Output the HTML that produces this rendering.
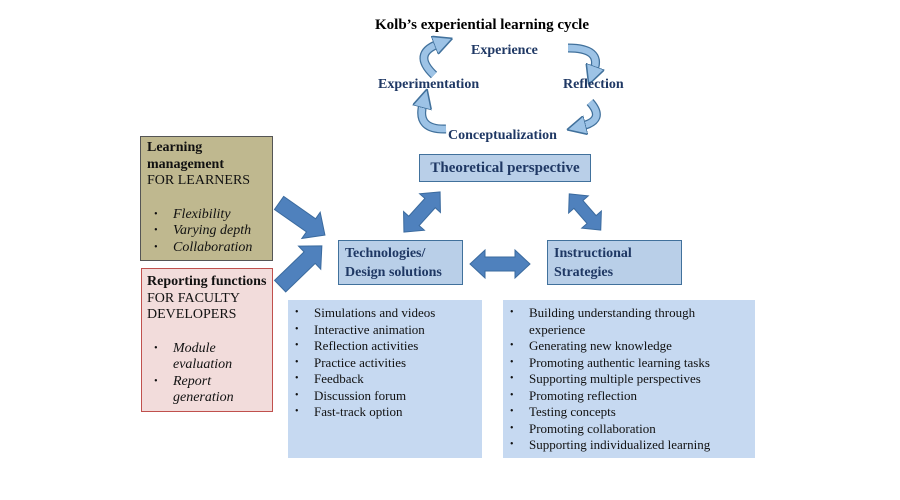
<!DOCTYPE html>
<html><head><meta charset="utf-8"><style>
body{margin:0;width:900px;height:500px;background:#fff;position:relative;overflow:hidden;font-family:"Liberation Serif",serif;}
.a{position:absolute;}
.b{font-weight:bold;color:#1f3864;}
ul{margin:0;padding:0;list-style:none;}
li{position:relative;padding-left:26px;font-size:13px;line-height:16.5px;color:#111;}
li:before{content:"•";position:absolute;left:7px;font-size:10px;}
</style></head><body>
<svg class="a" style="left:0;top:0" width="900" height="500">
<defs>
<marker id="h" viewBox="0 0 10 10" refX="2" refY="5" markerWidth="3" markerHeight="3" orient="auto" markerUnits="strokeWidth">
<path d="M0,0 L10,5 L0,10 Z" fill="#9dc3e6" stroke="#41719c" stroke-width="0.8"/>
</marker>
</defs>
<g fill="none" stroke-linecap="butt">
<g stroke="#41719c" stroke-width="9">
<path d="M434,75 Q412,54 438,44"/>
<path d="M568,48 Q602,48 594,70"/>
<path d="M590,102 Q606,120 582,126"/>
<path d="M446,129 Q416,130 423,104"/>
</g>
<g stroke="#9dc3e6" stroke-width="6.5" marker-end="url(#h)">
<path d="M434,75 Q412,54 438,44"/>
<path d="M568,48 Q602,48 594,70"/>
<path d="M590,102 Q606,120 582,126"/>
<path d="M446,129 Q416,130 423,104"/>
</g>
</g>
<g fill="#4f81bd" stroke="#3a6a9e" stroke-width="1">
<path transform="translate(302,219) rotate(35)" d="M-28,-8 L11,-8 L11,-16 L28,0 L11,16 L11,8 L-28,8 Z"/>
<path transform="translate(301,266) rotate(-44)" d="M-29,-8 L12,-8 L12,-16 L29,0 L12,16 L12,8 L-29,8 Z"/>
<path transform="translate(422,212) rotate(-48)" d="M-27,0 L-12,-14 L-12,-7 L12,-7 L12,-14 L27,0 L12,14 L12,7 L-12,7 L-12,14 Z"/>
<path transform="translate(585,212) rotate(49)" d="M-24,0 L-10,-13 L-10,-6 L10,-6 L10,-13 L24,0 L10,13 L10,6 L-10,6 L-10,13 Z"/>
<path transform="translate(500,264)" d="M-30,0 L-15,-14 L-15,-7 L15,-7 L15,-14 L30,0 L15,14 L15,7 L-15,7 L-15,14 Z"/>
</g>
</svg>
<div class="a" style="left:375px;top:17px;font-size:15px;font-weight:bold;color:#000">Kolb’s experiential learning cycle</div>
<div class="a b" style="left:471px;top:43px;font-size:14px">Experience</div>
<div class="a b" style="left:378px;top:77px;font-size:14px">Experimentation</div>
<div class="a b" style="left:563px;top:77px;font-size:14px">Reflection</div>
<div class="a b" style="left:448px;top:128px;font-size:14px">Conceptualization</div>
<div class="a b" style="left:419px;top:154px;width:172px;height:28px;box-sizing:border-box;background:#b9cfe8;border:1px solid #41719c;font-size:15px;line-height:26px;text-align:center">Theoretical perspective</div>
<div class="a b" style="left:338px;top:240px;width:125px;height:45px;box-sizing:border-box;background:#b9cfe8;border:1px solid #41719c;font-size:14px;line-height:19px;padding:3px 0 0 6px">Technologies/<br>Design solutions</div>
<div class="a b" style="left:547px;top:240px;width:135px;height:45px;box-sizing:border-box;background:#b9cfe8;border:1px solid #41719c;font-size:14px;line-height:19px;padding:3px 0 0 6px">Instructional<br>Strategies</div>
<div class="a" style="left:140px;top:136px;width:133px;height:125px;box-sizing:border-box;background:#bfb88f;border:1px solid #555;padding:3px 6px;font-size:14px;line-height:16.7px;color:#111">
<b>Learning<br>management</b><br>FOR LEARNERS<br><br>
<ul style="font-style:italic"><li style="font-size:14px">Flexibility</li><li style="font-size:14px">Varying depth</li><li style="font-size:14px">Collaboration</li></ul></div>
<div class="a" style="left:141px;top:268px;width:132px;height:144px;box-sizing:border-box;background:#f2dcdb;border:1px solid #c0504d;padding:5px 5px;font-size:14px;line-height:16.7px;color:#111">
<b>Reporting functions</b><br>FOR FACULTY<br>DEVELOPERS<br><br>
<ul style="font-style:italic"><li style="font-size:14px">Module evaluation</li><li style="font-size:14px">Report generation</li></ul></div>
<div class="a" style="left:288px;top:300px;width:194px;height:158px;background:#c6d9f1;padding-top:5px;box-sizing:border-box">
<ul><li>Simulations and videos</li><li>Interactive animation</li><li>Reflection activities</li><li>Practice activities</li><li>Feedback</li><li>Discussion forum</li><li>Fast-track option</li></ul></div>
<div class="a" style="left:503px;top:300px;width:252px;height:158px;background:#c6d9f1;padding:5px 30px 0 0;box-sizing:border-box">
<ul><li>Building  understanding through experience</li><li>Generating new knowledge</li><li>Promoting authentic learning tasks</li><li>Supporting multiple perspectives</li><li>Promoting reflection</li><li>Testing concepts</li><li>Promoting collaboration</li><li style="white-space:nowrap">Supporting individualized  learning</li></ul></div>
</body></html>
